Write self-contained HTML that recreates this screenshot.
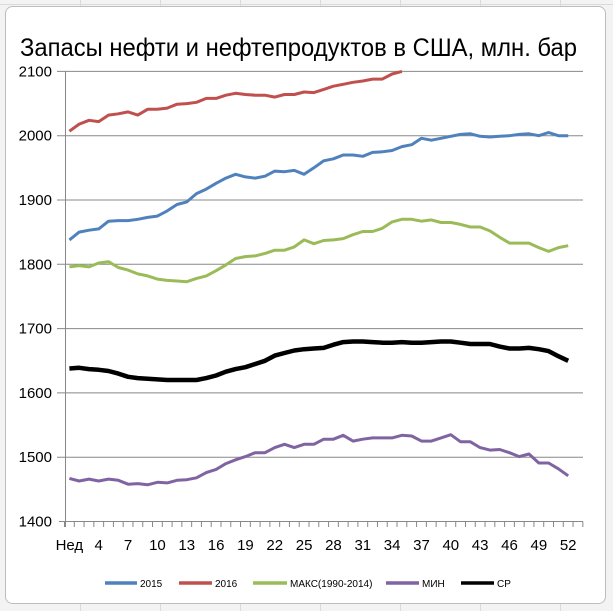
<!DOCTYPE html>
<html><head><meta charset="utf-8"><style>
html,body{margin:0;padding:0;background:#fff;width:613px;height:611px;overflow:hidden}
svg{display:block;font-family:"Liberation Sans",sans-serif}
</style></head><body>
<svg id="s" width="613" height="611" viewBox="0 0 613 611" xmlns="http://www.w3.org/2000/svg">
<rect width="613" height="611" fill="#f3f3f3"/>
<g stroke="#dadada" stroke-width="1">
<line x1="0" y1="4.5" x2="613" y2="4.5"/><line x1="80.5" y1="0" x2="80.5" y2="611"/><line x1="160.5" y1="0" x2="160.5" y2="611"/><line x1="240.5" y1="0" x2="240.5" y2="611"/><line x1="320.5" y1="0" x2="320.5" y2="611"/><line x1="400.5" y1="0" x2="400.5" y2="611"/><line x1="480.5" y1="0" x2="480.5" y2="611"/><line x1="560.5" y1="0" x2="560.5" y2="611"/>
</g>
<rect x="5.5" y="6.5" width="600" height="597" rx="7" fill="#fff" stroke="#bdbdbd"/>
<text x="20" y="56" font-size="25" fill="#000" textLength="557" lengthAdjust="spacingAndGlyphs">Запасы нефти и нефтепродуктов в США, млн. бар</text>
<g id="grid" stroke="#888" stroke-width="1"></g>
<g id="lab" font-size="15" fill="#000"></g>
<g id="ser" fill="none" stroke-linejoin="round"></g>
<g font-size="10" fill="#000">
<line x1="105" y1="583" x2="137" y2="583" stroke="#4f81bd" stroke-width="3.5"/><text x="140" y="587">2015</text>
<line x1="179" y1="583" x2="212" y2="583" stroke="#c0504d" stroke-width="3.5"/><text x="215" y="587">2016</text>
<line x1="253" y1="583" x2="287" y2="583" stroke="#9bbb59" stroke-width="3.5"/><text x="290" y="587">МАКС(1990-2014)</text>
<line x1="386" y1="583" x2="419" y2="583" stroke="#8064a2" stroke-width="3.5"/><text x="422" y="587">МИН</text>
<line x1="461" y1="583" x2="494" y2="583" stroke="#000" stroke-width="3.5"/><text x="497" y="587">СР</text>
</g>
</svg>
<script>
var NS="http://www.w3.org/2000/svg";
function el(p,t,a,txt){var e=document.createElementNS(NS,t);for(var k in a)e.setAttribute(k,a[k]);if(txt!==undefined)e.textContent=txt;document.getElementById(p).appendChild(e);return e;}
function Y(v){return 521.5-(v-1400)*0.643;}
function X(i){return 64.5+9.78*(i-0.5);}
for(var v=1400;v<=2100;v+=100){var y=Y(v);if(v>1400)el("grid","line",{x1:57,y1:y,x2:583,y2:y});el("lab","text",{x:52,y:y+5,"text-anchor":"end"},v);}
el("grid","line",{x1:65.5,y1:71,x2:65.5,y2:527});
el("grid","line",{x1:59,y1:521.5,x2:583,y2:521.5});
for(var i=0;i<=53;i++){var x=64.5+9.78*i;el("grid","line",{x1:x,y1:521.5,x2:x,y2:527});}
el("lab","text",{x:X(1),y:550,"text-anchor":"middle"},"Нед");
for(var w=4;w<=52;w+=3)el("lab","text",{x:X(w),y:550,"text-anchor":"middle"},w);
var D=[
["#4f81bd",3,[1838,1850,1853,1855,1867,1868,1868,1870,1873,1875,1883,1893,1897,1910,1917,1926,1934,1940,1936,1934,1937,1945,1944,1946,1940,1950,1961,1964,1970,1970,1968,1974,1975,1977,1983,1986,1996,1993,1996,1999,2002,2003,1999,1998,1999,2000,2002,2003,2000,2005,2000,2000]],
["#c0504d",3,[2007,2018,2024,2022,2032,2034,2037,2032,2041,2041,2043,2049,2050,2052,2058,2058,2063,2066,2064,2063,2063,2060,2064,2064,2068,2067,2072,2077,2080,2083,2085,2088,2088,2096,2100]],
["#9bbb59",3,[1796,1798,1796,1802,1804,1795,1791,1785,1782,1777,1775,1774,1773,1778,1782,1790,1799,1809,1812,1813,1817,1822,1822,1827,1838,1832,1837,1838,1840,1846,1851,1851,1856,1866,1870,1870,1867,1869,1865,1865,1862,1858,1858,1852,1842,1833,1833,1833,1826,1820,1826,1829]],
["#8064a2",3,[1467,1463,1466,1463,1466,1464,1458,1459,1457,1461,1460,1464,1465,1468,1476,1481,1490,1496,1501,1507,1507,1515,1520,1515,1520,1520,1528,1528,1534,1525,1528,1530,1530,1530,1534,1533,1525,1525,1530,1535,1524,1524,1515,1511,1512,1507,1501,1505,1491,1491,1482,1471]],
["#000",4.5,[1638,1639,1637,1636,1634,1630,1625,1623,1622,1621,1620,1620,1620,1620,1623,1627,1633,1637,1640,1645,1650,1658,1662,1666,1668,1669,1670,1675,1679,1680,1680,1679,1678,1678,1679,1678,1678,1679,1680,1680,1678,1676,1676,1676,1672,1669,1669,1670,1668,1665,1657,1650]]];
D.forEach(function(d){var p=d[2].map(function(v,i){return X(i+1).toFixed(1)+","+Y(v).toFixed(1);}).join(" ");el("ser","polyline",{points:p,stroke:d[0],"stroke-width":d[1]});});
</script>
</body></html>
